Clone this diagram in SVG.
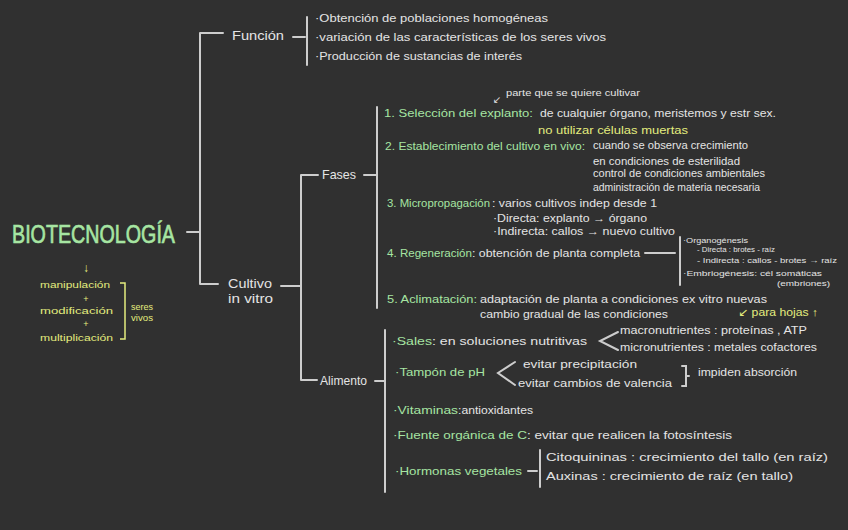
<svg xmlns="http://www.w3.org/2000/svg" width="848" height="530" viewBox="0 0 848 530">
<style>
.ln{stroke:#cdcdcd;stroke-width:2;fill:none;stroke-linecap:round}
.lny{stroke:#e3ec7e;stroke-width:1.5;fill:none}
text{font-family:"Liberation Sans","DejaVu Sans",sans-serif;font-size:11px;fill:#e4e4e4}
.g{fill:#a6e5a2}
.y{fill:#e3ec7e}
.s{font-size:8px}
.m{font-size:9px}
.h{font-size:13px}
</style>
<rect width="848" height="530" fill="#303030"/>
<g id="connectors">
<path class="ln" d="M187,232 H200 M200,33 V284 M200,33 H223 M200,284 H218"/>
<path class="ln" d="M293,37 H305 M307,17 V65"/>
<path class="ln" d="M281,286 H301 M301,175 V380 M301,175 H318 M301,380 H317"/>
<path class="ln" d="M364,175 H376 M377,107 V308"/>
<path class="ln" d="M375,381 H385 M385,330 V492"/>
<path class="ln" d="M645,253 H675 M680,237 V285"/>
<path class="ln" d="M528,471 H537 M540,450 V487"/>
<path class="ln" d="M618,332 L600,341 L618,350"/>
<path class="ln" d="M515,362 L498,373 L515,385"/>
<path class="ln" d="M682,366 H686 V386 H682 M686,376 H689" stroke-width="1.5"/>
</g>
<g id="biotecnologia">
<text x="12" y="243" class="g" style="font-size:26px;stroke:#a6e5a2;stroke-width:0.7" textLength="163" lengthAdjust="spacingAndGlyphs">BIOTECNOLOGÍA</text>
<text x="86" y="272" class="y" style="font-size:12px" text-anchor="middle">↓</text>
<text x="40" y="288" class="y m" textLength="70" lengthAdjust="spacingAndGlyphs">manipulación</text>
<text x="86" y="302" class="y m" text-anchor="middle">+</text>
<text x="40" y="314" class="y m" textLength="73" lengthAdjust="spacingAndGlyphs">modificación</text>
<text x="86" y="327" class="y m" text-anchor="middle">+</text>
<text x="40" y="341" class="y m" textLength="73" lengthAdjust="spacingAndGlyphs">multiplicación</text>
<path class="lny" d="M120,283 H125 V339 H120"/>
<text x="131" y="310" class="y m" textLength="22" lengthAdjust="spacingAndGlyphs">seres</text>
<text x="131" y="321" class="y m" textLength="22" lengthAdjust="spacingAndGlyphs">vivos</text>
</g>
<g id="funcion">
<text x="232" y="40" class="h" textLength="52" lengthAdjust="spacingAndGlyphs">Función</text>
<text x="315" y="22" textLength="233" lengthAdjust="spacingAndGlyphs">·Obtención de poblaciones homogéneas</text>
<text x="315" y="41" textLength="291" lengthAdjust="spacingAndGlyphs">·variación de las características de los seres vivos</text>
<text x="315" y="60" textLength="207" lengthAdjust="spacingAndGlyphs">·Producción de sustancias de interés</text>
</g>
<g id="cultivo">
<text x="228" y="288" class="h" textLength="44" lengthAdjust="spacingAndGlyphs">Cultivo</text>
<text x="228" y="303" class="h" textLength="45" lengthAdjust="spacingAndGlyphs">in vitro</text>
</g>
<g id="fases">
<text x="322" y="179" class="h" textLength="34" lengthAdjust="spacingAndGlyphs">Fases</text>
</g>
<g id="fase1">
<text x="493" y="103" style="font-size:10px">↙</text>
<text x="506" y="96" class="m" textLength="134" lengthAdjust="spacingAndGlyphs">parte que se quiere cultivar</text>
<text x="384" y="117" class="g" textLength="149" lengthAdjust="spacingAndGlyphs">1. Selección del explanto:</text>
<text x="540" y="117" textLength="236" lengthAdjust="spacingAndGlyphs">de cualquier órgano, meristemos y estr sex.</text>
<text x="538" y="134" class="y" textLength="150" lengthAdjust="spacingAndGlyphs">no utilizar células muertas</text>
</g>
<g id="fase2">
<text x="385" y="150" class="g" textLength="200" lengthAdjust="spacingAndGlyphs">2. Establecimiento del cultivo en vivo:</text>
<text x="593" y="149" textLength="155" lengthAdjust="spacingAndGlyphs">cuando se observa crecimiento</text>
<text x="593" y="165" textLength="147" lengthAdjust="spacingAndGlyphs">en condiciones de esterilidad</text>
<text x="593" y="177" textLength="172" lengthAdjust="spacingAndGlyphs">control de condiciones ambientales</text>
<text x="593" y="191" textLength="167" lengthAdjust="spacingAndGlyphs">administración de materia necesaria</text>
</g>
<g id="fase3">
<text x="387" y="207" class="g" textLength="103" lengthAdjust="spacingAndGlyphs">3. Micropropagación</text>
<text x="492" y="207" textLength="165" lengthAdjust="spacingAndGlyphs">: varios cultivos indep desde 1</text>
<text x="493" y="222" textLength="154" lengthAdjust="spacingAndGlyphs">·Directa: explanto → órgano</text>
<text x="493" y="235" textLength="182" lengthAdjust="spacingAndGlyphs">·Indirecta: callos → nuevo cultivo</text>
</g>
<g id="fase4">
<text x="387" y="257" class="g" textLength="85" lengthAdjust="spacingAndGlyphs">4. Regeneración</text>
<text x="472" y="257" textLength="168" lengthAdjust="spacingAndGlyphs">: obtención de planta completa</text>
<text x="683" y="243" class="s" textLength="65" lengthAdjust="spacingAndGlyphs">·Organogénesis</text>
<text x="697" y="252" class="s" textLength="78" lengthAdjust="spacingAndGlyphs">- Directa : brotes - raíz</text>
<text x="697" y="263" class="s" textLength="140" lengthAdjust="spacingAndGlyphs">- Indirecta : callos - brotes → raíz</text>
<text x="683" y="276" class="s" textLength="139" lengthAdjust="spacingAndGlyphs">·Embriogénesis: cél somáticas</text>
<text x="777" y="286" class="s" textLength="53" lengthAdjust="spacingAndGlyphs">(embriones)</text>
</g>
<g id="fase5">
<text x="387" y="303" class="g" textLength="90" lengthAdjust="spacingAndGlyphs">5. Aclimatación:</text>
<text x="480" y="303" textLength="287" lengthAdjust="spacingAndGlyphs">adaptación de planta a condiciones ex vitro nuevas</text>
<text x="480" y="318" textLength="188" lengthAdjust="spacingAndGlyphs">cambio gradual de las condiciones</text>
<text x="738" y="316" class="y" textLength="80" lengthAdjust="spacingAndGlyphs">↙ para hojas ↑</text>
</g>
<g id="alimento">
<text x="320" y="385" style="font-size:12px" textLength="47" lengthAdjust="spacingAndGlyphs">Alimento</text>
</g>
<g id="sales">
<text x="392" y="345" class="g" textLength="40" lengthAdjust="spacingAndGlyphs">·Sales</text>
<text x="432" y="345" textLength="155" lengthAdjust="spacingAndGlyphs">: en soluciones nutritivas</text>
<text x="620" y="334" textLength="187" lengthAdjust="spacingAndGlyphs">macronutrientes : proteínas , ATP</text>
<text x="620" y="351" textLength="197" lengthAdjust="spacingAndGlyphs">micronutrientes : metales cofactores</text>
</g>
<g id="tampon">
<text x="395" y="376" class="g" textLength="90" lengthAdjust="spacingAndGlyphs">·Tampón de pH</text>
<text x="523" y="368" textLength="114" lengthAdjust="spacingAndGlyphs">evitar precipitación</text>
<text x="518" y="387" textLength="154" lengthAdjust="spacingAndGlyphs">evitar cambios de valencia</text>
<text x="698" y="376" textLength="99" lengthAdjust="spacingAndGlyphs">impiden absorción</text>
</g>
<g id="vitaminas">
<text x="393" y="414" class="g" textLength="65" lengthAdjust="spacingAndGlyphs">·Vitaminas</text>
<text x="458" y="414" textLength="75" lengthAdjust="spacingAndGlyphs">:antioxidantes</text>
</g>
<g id="fuente">
<text x="393" y="439" class="g" textLength="134" lengthAdjust="spacingAndGlyphs">·Fuente orgánica de C</text>
<text x="527" y="439" textLength="205" lengthAdjust="spacingAndGlyphs">: evitar que realicen la fotosíntesis</text>
</g>
<g id="hormonas">
<text x="395" y="475" class="g" textLength="127" lengthAdjust="spacingAndGlyphs">·Hormonas vegetales</text>
<text x="546" y="461" textLength="282" lengthAdjust="spacingAndGlyphs">Citoquininas : crecimiento del tallo (en raíz)</text>
<text x="546" y="480" textLength="247" lengthAdjust="spacingAndGlyphs">Auxinas : crecimiento de raíz (en tallo)</text>
</g>
</svg>
